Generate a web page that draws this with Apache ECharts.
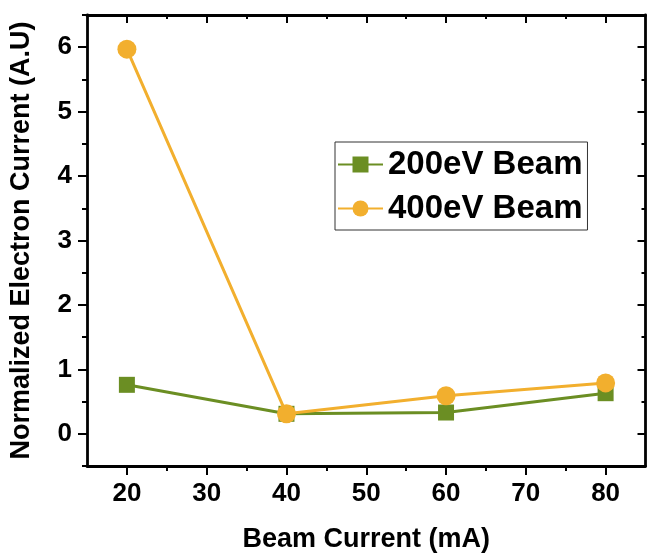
<!DOCTYPE html>
<html>
<head>
<meta charset="utf-8">
<script src="https://cdn.jsdelivr.net/npm/echarts@6/dist/echarts.min.js"></script>
<style>
html,body{margin:0;padding:0;background:#fff;}
#c{width:647px;height:553px;}
</style>
</head>
<body>
<div id="c"></div>
<script>
const beamCurrent = [20, 40, 60, 80];
const beam200 = [0.76, 0.31, 0.33, 0.63];
const beam400 = [5.97, 0.31, 0.59, 0.79];
const seriesNames = ['200eV Beam', '400eV Beam'];
const xMajor = [20, 30, 40, 50, 60, 70, 80];
const xMinor = [25, 35, 45, 55, 65, 75];
const yMajor = [0, 1, 2, 3, 4, 5, 6];
const yMinor = [-0.5, 0.5, 1.5, 2.5, 3.5, 4.5, 5.5, 6.5];

const FONT = 'Liberation Sans, Arial, sans-serif';
const green = '#6B8E23';
const orange = '#F2AF2E';
const lineW = 2.8;

function xAx(pos, ticks, len, inside, showLine, showLabel, extra) {
  return Object.assign({
    type: 'value', position: pos, min: 15, max: 85,
    axisLine: {show: showLine, onZero: false, lineStyle: {color: '#000', width: lineW}},
    axisTick: {show: true, inside: inside, length: len, customValues: ticks, lineStyle: {color: '#000', width: 2}},
    axisLabel: {show: showLabel, customValues: ticks, margin: 15, color: '#000', fontFamily: FONT, fontWeight: 'bold', fontSize: 26},
    splitLine: {show: false}
  }, extra || {});
}
function yAx(pos, ticks, len, inside, showLine, showLabel, extra) {
  return Object.assign({
    type: 'value', position: pos, min: -0.5, max: 6.5,
    axisLine: {show: showLine, onZero: false, lineStyle: {color: '#000', width: lineW}},
    axisTick: {show: true, inside: inside, length: len, customValues: ticks, lineStyle: {color: '#000', width: 2}},
    axisLabel: {show: showLabel, customValues: ticks, margin: 15, color: '#000', fontFamily: FONT, fontWeight: 'bold', fontSize: 26},
    splitLine: {show: false}
  }, extra || {});
}

const chart = echarts.init(document.getElementById('c'));
chart.setOption({
  backgroundColor: '#fff',
  animation: false,
  grid: {left: 87, right: 1.5, top: 15, bottom: 87, containLabel: false, outerBoundsMode: 'none'},
  xAxis: [
    xAx('bottom', xMajor, 9, false, true, true, {
      name: 'Beam Current (mA)', nameLocation: 'middle', nameGap: 60,
      nameTextStyle: {color: '#000', fontFamily: FONT, fontWeight: 'bold', fontSize: 27}
    }),
    xAx('bottom', xMinor, 5, false, false, false),
    xAx('top', xMajor, 8, true, true, false),
    xAx('top', xMinor, 4, true, false, false)
  ],
  yAxis: [
    yAx('left', yMajor, 9, false, true, true, {
      name: 'Normalized Electron Current (A.U)', nameLocation: 'middle', nameGap: 52,
      nameTextStyle: {color: '#000', fontFamily: FONT, fontWeight: 'bold', fontSize: 27}
    }),
    yAx('left', yMinor, 5, false, false, false),
    yAx('right', yMajor, 8, true, true, false),
    yAx('right', yMinor, 4, true, false, false)
  ],
  legend: {
    orient: 'vertical', left: 335, top: 142,
    padding: [6, 5, 5, 2],
    borderColor: '#333', borderWidth: 1,
    itemWidth: 45, itemHeight: 20, itemGap: 11,
    textStyle: {color: '#000', fontFamily: FONT, fontWeight: 'bold', fontSize: 33, lineHeight: 32},
    data: seriesNames
  },
  series: [
    {
      name: seriesNames[0], type: 'line', xAxisIndex: 0, yAxisIndex: 0,
      data: beamCurrent.map((x, i) => [x, beam200[i]]),
      symbol: 'rect', symbolSize: 16,
      lineStyle: {color: green, width: 3},
      itemStyle: {color: green},
      z: 2
    },
    {
      name: seriesNames[1], type: 'line', xAxisIndex: 0, yAxisIndex: 0,
      data: beamCurrent.map((x, i) => [x, beam400[i]]),
      symbol: 'circle', symbolSize: 19,
      lineStyle: {color: orange, width: 3},
      itemStyle: {color: orange},
      z: 3
    }
  ]
});
</script>
</body>
</html>
